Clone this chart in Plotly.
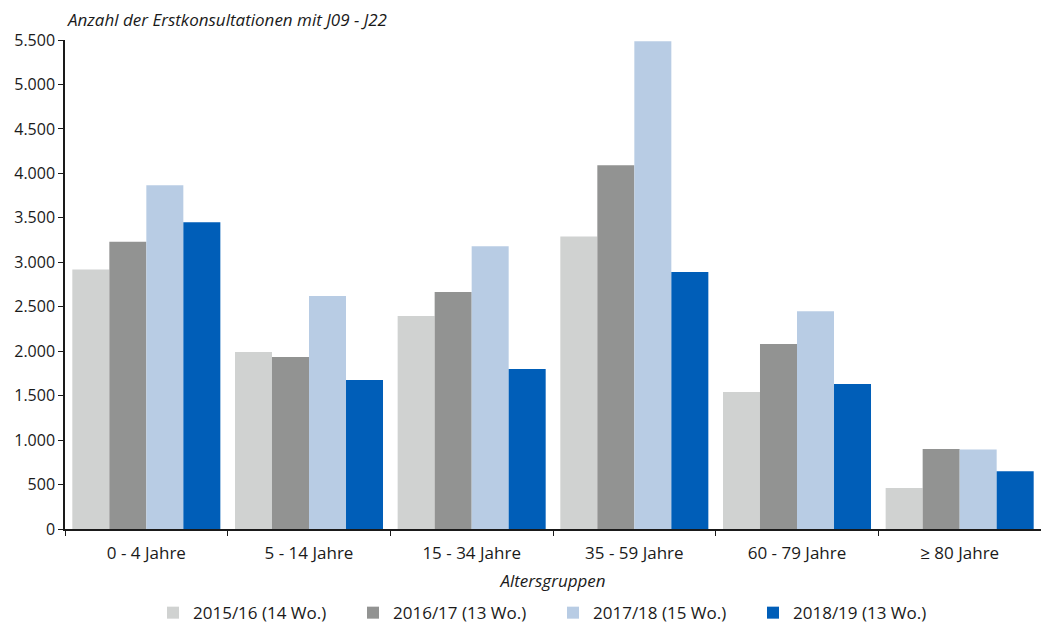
import plotly.graph_objects as go

# Altersgruppen und Erstkonsultationen je Saison
altersgruppen = ["0 - 4 Jahre", "5 - 14 Jahre", "15 - 34 Jahre", "35 - 59 Jahre", "60 - 79 Jahre", "≥ 80 Jahre"]
saisons = ["2015/16 (14 Wo.)", "2016/17 (13 Wo.)", "2017/18 (15 Wo.)", "2018/19 (13 Wo.)"]
werte_2015_16 = [2920, 1990, 2395, 3290, 1540, 460]
werte_2016_17 = [3230, 1935, 2665, 4090, 2080, 900]
werte_2017_18 = [3865, 2620, 3180, 5485, 2450, 895]
werte_2018_19 = [3450, 1675, 1800, 2890, 1630, 650]
farben = ["#D0D2D1", "#929392", "#B8CCE4", "#005EB8"]
y_ticks = [0, 500, 1000, 1500, 2000, 2500, 3000, 3500, 4000, 4500, 5000, 5500]

FONT = "Open Sans"

fig = go.Figure()
for name, vals, col in zip(saisons, [werte_2015_16, werte_2016_17, werte_2017_18, werte_2018_19], farben):
    fig.add_trace(go.Bar(x=altersgruppen, y=vals, name=name, marker=dict(color=col, line=dict(width=0))))

fig.update_layout(
    width=1041, height=625,
    margin=dict(l=65, r=0, t=40, b=96, autoexpand=False),
    plot_bgcolor="white", paper_bgcolor="white",
    barmode="group", bargap=0.09, bargroupgap=0,
    separators=",.",
    font=dict(family=FONT, size=16, color="#1a1a1a"),
    showlegend=True,
    legend=dict(orientation="h", x=0.5, xanchor="center", y=-0.172, yanchor="middle",
                entrywidth=155, font=dict(size=17), itemwidth=30, traceorder="normal"),
    xaxis=dict(
        automargin=False,
        showline=True, linecolor="#1a1a1a", linewidth=1.5,
        ticks="outside", tickson="boundaries", ticklen=5, tickcolor="#1a1a1a",
        ticklabelstandoff=8,
        title=dict(text="<i>Altersgruppen</i>", standoff=12, font=dict(size=17)),
        tickfont=dict(size=17),
    ),
    yaxis=dict(
        automargin=False,
        range=[0, 5500], tickvals=y_ticks, tickformat=",d",
        showline=True, linecolor="#1a1a1a", linewidth=1.5,
        ticks="outside", ticklen=5, tickcolor="#1a1a1a",
        showgrid=False, zeroline=False, tickfont=dict(size=16),
    ),
    annotations=[dict(
        text="<i>Anzahl der Erstkonsultationen mit J09 - J22</i>",
        xref="paper", yref="paper", x=0, y=1, xanchor="left", yanchor="bottom",
        yshift=7, showarrow=False, font=dict(size=17),
    )],
)

fig.write_html("out.html")
